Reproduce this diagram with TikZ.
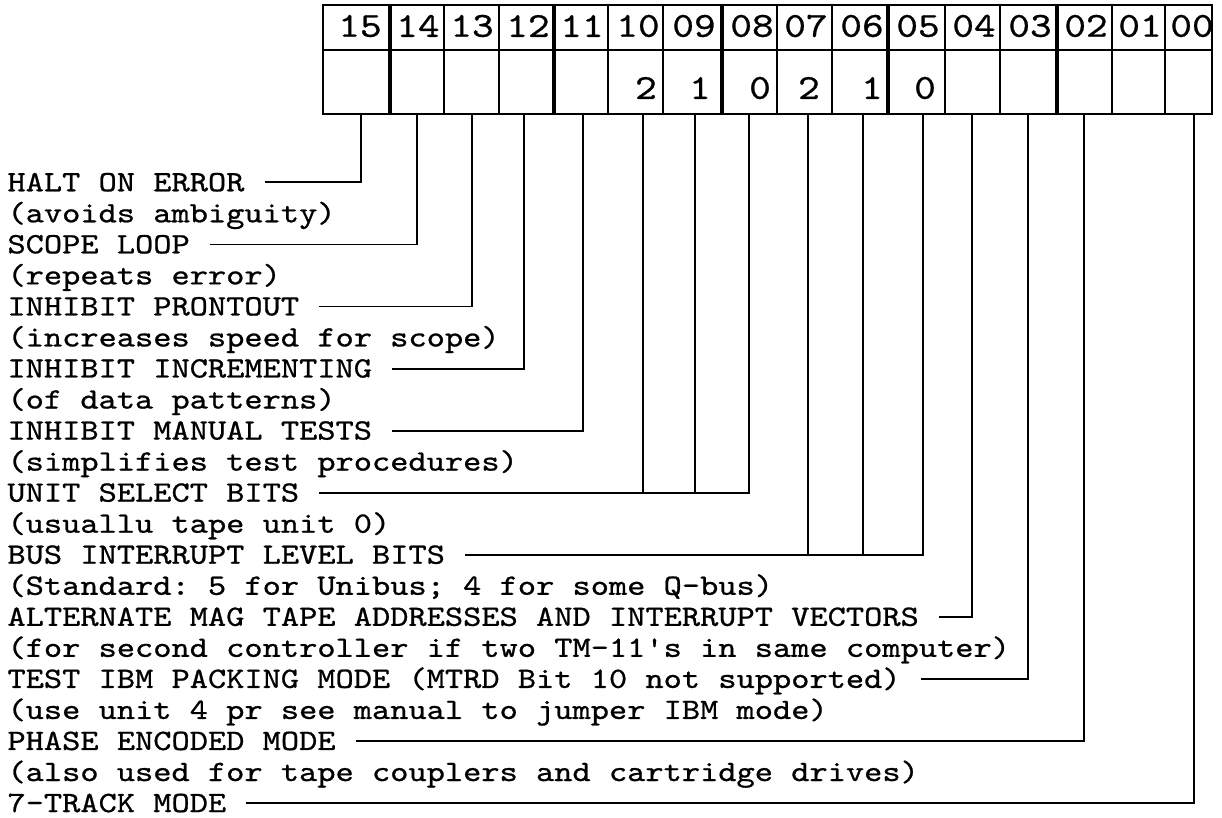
\documentclass[tikz,border=0pt]{standalone}
\usepackage{fontspec}
\setmonofont[Extension=.otf,FakeStretch=1.176,FakeBold=0.8]{lmmono10-regular}
\newcommand{\notefont}{\ttfamily\fontsize{21}{26}\selectfont}
\newcommand{\bitfont}{\ttfamily\fontsize{25}{30}\selectfont}
\tikzset{
  regline/.style={line width=1.5pt},
  sepline/.style={line width=3pt},
  wire/.style={line width=1.3pt},
  note/.style={anchor=west, inner sep=0pt, text height=12.6pt, text depth=0pt},
  bitno/.style={font=\bitfont, inner sep=0pt}
}
\begin{document}
\begin{tikzpicture}[font=\notefont]
  \useasboundingbox (0,0) rectangle (30.55,-20.45);
  % register
  \draw[regline] (8.075,-0.125) rectangle (30.3,-2.85);
  \draw[regline] (8.075,-1.25) -- (30.3,-1.25);
  \foreach \x in {11.1,12.475,15.2,16.575,19.425,20.8,23.625,25.0,27.8,29.125}{ \draw[regline] (\x,-0.125) -- (\x,-2.85); }
  \foreach \x in {9.75,13.85,18.05,22.2,26.425}{ \draw[sepline] (\x,-0.125) -- (\x,-2.85); }
  \foreach \b/\x in {15/9.0,14/10.45,13/11.8,12/13.2,11/14.55,10/15.95,09/17.35,08/18.8,07/20.15,06/21.55,05/22.95,04/24.35,03/25.75,02/27.15,01/28.5,00/29.8}{
    \node[bitno] (n\b) at (\x,-0.65) {\b};
  }
  \foreach \b/\x/\v in {10/16.15/2,09/17.5/1,08/19.0/0,07/20.225/2,06/21.8/1,05/23.125/0}{
    \node[bitno] (v\b) at (\x,-2.2) {\v};
  }
  \foreach \b/\x in {15/9.025,14/10.425,13/11.8,12/13.1,11/14.575,10/16.075,09/17.375,08/18.725,07/20.2,06/21.575,05/23.075,04/24.3,03/25.7,02/27.1,00/29.85}{
    \coordinate (p\b) at (\x,-2.85);
  }
  % notes
  \foreach \i/\txt in {0/{HALT ON ERROR},1/{(avoids ambiguity)},2/{SCOPE LOOP},3/{(repeats error)},
      4/{INHIBIT PRONTOUT},5/{(increases speed for scope)},6/{INHIBIT INCREMENTING},7/{(of data patterns)},
      8/{INHIBIT MANUAL TESTS},9/{(simplifies test procedures)},10/{UNIT SELECT BITS},11/{(usuallu tape unit 0)},
      12/{BUS INTERRUPT LEVEL BITS},13/{(Standard: 5 for Unibus; 4 for some Q-bus)},
      14/{ALTERNATE MAG TAPE ADDRESSES AND INTERRUPT VECTORS},15/{(for second controller if two TM-11's in same computer)},
      16/{TEST IBM PACKING MODE (MTRD Bit 10 not supported)},17/{(use unit 4 pr see manual to jumper IBM mode)},
      18/{PHASE ENCODED MODE},19/{(also used for tape couplers and cartridge drives)},20/{7-TRACK MODE}}{
    \node[note] (t\i) at (0.18,-4.56-0.776*\i) {\txt};
  }
  % connectors
  \foreach \i/\b in {0/15,2/14,4/13,6/12,8/11,10/08,12/05,14/04,16/03,18/02,20/00}{
    \draw[wire] ([xshift=5mm]t\i.east) -| (p\b);
  }
  \foreach \i/\b in {10/10,10/09,12/07,12/06}{
    \draw[wire] (p\b) -- (p\b |- t\i.east);
  }
\end{tikzpicture}
\end{document}
